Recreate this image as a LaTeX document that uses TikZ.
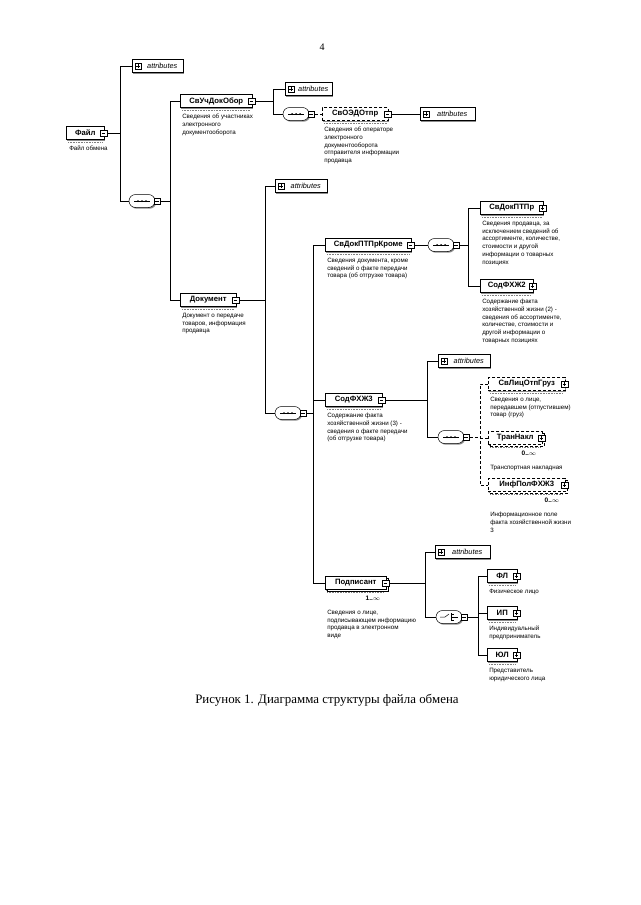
\documentclass[tikz,border=0pt]{standalone}
\usepackage{fontspec}
\setmainfont{Liberation Serif}
\setsansfont{Liberation Sans}
\usetikzlibrary{shapes.misc, shadows}

\begin{document}
\begin{tikzpicture}[x=1pt, y=-1pt, line width=0.5pt,
    elem/.style={draw, fill=white, anchor=west, minimum height=13pt, inner sep=1pt,
      font=\sffamily\bfseries\fontsize{7.7}{8}\selectfont,
      drop shadow={shadow xshift=1.2pt, shadow yshift=-1.2pt, fill=black!45, opacity=1}},
    optl/.style={elem, densely dashed},
    many/.style={copy shadow={shadow xshift=2pt, shadow yshift=-2pt}},
    attr/.style={draw, fill=white, anchor=west, minimum height=13pt, minimum width=52pt, inner sep=1pt,
      font=\sffamily\itshape\fontsize{7.3}{8}\selectfont,
      drop shadow={shadow xshift=1.2pt, shadow yshift=-1.2pt, fill=black!45, opacity=1},
      path picture={
        \draw ([xshift=2.5pt, yshift=-3pt]path picture bounding box.west) rectangle ++(6pt,6pt);
        \draw ([xshift=3.7pt]path picture bounding box.west) -- ++(3.6pt,0pt);
        \draw ([xshift=5.5pt, yshift=-1.8pt]path picture bounding box.west) -- ++(0pt,3.6pt);
      }},
    comp/.style={draw, fill=white, rounded rectangle, minimum width=26pt, minimum height=13pt, inner sep=0pt,
      drop shadow={shadow xshift=1.2pt, shadow yshift=-1.2pt, fill=black!45, opacity=1}},
    sign/.style={draw, fill=white, minimum size=6.5pt, inner sep=0pt},
    minus/.style={sign, path picture={
        \draw ([xshift=1.3pt]path picture bounding box.west) -- ([xshift=-1.3pt]path picture bounding box.east);}},
    plus/.style={sign, path picture={
        \draw ([xshift=1.3pt]path picture bounding box.west) -- ([xshift=-1.3pt]path picture bounding box.east);
        \draw ([yshift=-1.3pt]path picture bounding box.north) -- ([yshift=1.3pt]path picture bounding box.south);}},
    desc/.style={anchor=north west, inner sep=0pt, align=left, font=\sffamily\fontsize{6.2}{7.8}\selectfont},
    card/.style={anchor=north east, inner sep=0pt, font=\sffamily\bfseries\fontsize{6.5}{7}\selectfont},
    ann/.style={densely dotted, line width=0.6pt, black!50},
    conn/.style={line width=0.6pt},
    opt/.style={conn, densely dashed}
  ]
  \useasboundingbox (0,0) rectangle (640,905);

  \node[font=\fontsize{10}{12}\selectfont] (pg) at (322,47) {4};

  % root
  \node[elem, minimum width=38pt] (fajl) at (66,133) {Файл};
  \node[attr, minimum width=51pt] (at1) at (132,66) {\hspace{9pt}attributes};
  \node[comp] (sq1) at (142,201) {};

  % level 1
  \node[elem, minimum width=72pt] (svuch) at (180,101) {СвУчДокОбор};
  \node[elem, minimum width=56pt] (dok) at (180,300) {Документ};

  % СвУчДокОбор
  \node[attr, minimum width=47pt] (at2) at (285,89) {\hspace{9pt}attributes};
  \node[comp] (sq2) at (296,114) {};
  \node[optl, minimum width=66pt] (svoed) at (322,114) {СвОЭДОтпр};
  \node[attr, minimum width=55pt] (at3) at (420,114) {\hspace{9pt}attributes};

  % Документ
  \node[attr] (at4) at (275,186) {\hspace{9pt}attributes};
  \node[comp] (sq3) at (288,413) {};
  \node[elem, minimum width=86pt] (svdokk) at (325,245) {СвДокПТПрКроме};
  \node[comp] (sq4) at (441,245) {};
  \node[elem, minimum width=63pt] (svdok) at (480,208) {СвДокПТПр};
  \node[elem, minimum width=53pt] (sod2) at (480,286) {СодФХЖ2};

  \node[elem, minimum width=57pt] (sod3) at (325,400) {СодФХЖ3};
  \node[attr] (at5) at (438,361) {\hspace{9pt}attributes};
  \node[comp] (sq5) at (451,437) {};
  \node[optl, minimum width=77pt] (svlic) at (488,384) {СвЛицОтпГруз};
  \node[optl, many, minimum width=54pt] (trann) at (488,438) {ТранНакл};
  \node[optl, many, minimum width=77pt] (infpol) at (488,485) {ИнфПолФХЖ3};

  \node[elem, many, minimum width=61pt] (podp) at (325,583) {Подписант};
  \node[attr, minimum width=55pt] (at6) at (435,552) {\hspace{9pt}attributes};
  \node[comp] (ch1) at (449,617) {};
  \node[elem, minimum width=30pt] (fl) at (487,576) {ФЛ};
  \node[elem, minimum width=30pt] (ip) at (487,613) {ИП};
  \node[elem, minimum width=30pt] (ul) at (487,655) {ЮЛ};

  % icons
  \foreach \n in {fajl, svuch, dok, svoed, svdokk, sod3, podp}
    \node[minus] (\n-i) at ([xshift=-1]\n.east) {};
  \foreach \n in {svdok, sod2, svlic, trann, infpol, fl, ip, ul}
    \node[plus] (\n-i) at ([xshift=-1]\n.east) {};
  \foreach \n in {sq1, sq2, sq3, sq4, sq5, ch1}
    \node[minus] (\n-i) at ([xshift=2]\n.east) {};

  % annotation bars
  \foreach \n in {fajl, svuch, dok, svoed, svdokk, svdok, sod2, sod3, svlic, trann, infpol, podp, fl, ip, ul}
    \draw[ann] ([shift={(2,3)}]\n.south west) -- ([shift={(-2,3)}]\n.south east);

  % sequence marks
  \foreach \s in {sq1, sq2, sq3, sq4, sq5} {
    \draw ([xshift=-8pt]\s.center) -- ([xshift=8pt]\s.center);
    \foreach \d in {-4, 0, 4}
      \fill ([xshift=\d pt]\s.center) circle (1pt);
  }
  % choice mark
  \draw ([xshift=-9pt]ch1.center) -- ([xshift=-4pt]ch1.center) -- ([shift={(0,-3)}]ch1.center);
  \draw ([shift={(2,-4)}]ch1.center) -- ([shift={(2,4)}]ch1.center);
  \foreach \d in {-3, 0, 3}
    \draw ([shift={(2,\d)}]ch1.center) -- ([shift={(5,\d)}]ch1.center);
  \draw ([xshift=5pt]ch1.center) -- ([xshift=9pt]ch1.center);

  % cardinalities
  \node[card] (trann-c) at ([shift={(-6,6)}]trann.south east) {0..$\infty$};
  \node[card] (infpol-c) at ([shift={(-6,6)}]infpol.south east) {0..$\infty$};
  \node[card] (podp-c) at ([shift={(-6,6)}]podp.south east) {1..$\infty$};

  % descriptions
  \node[desc] (fajl-d) at ([shift={(3,6)}]fajl.south west) {Файл обмена};
  \node[desc] (svuch-d) at ([shift={(2,6)}]svuch.south west) {Сведения об участниках\\электронного\\документооборота};
  \node[desc] (svoed-d) at ([shift={(2,6)}]svoed.south west) {Сведения об операторе\\электронного\\документооборота\\отправителя информации\\продавца};
  \node[desc] (dok-d) at ([shift={(2,6)}]dok.south west) {Документ о передаче\\товаров, информация\\продавца};
  \node[desc] (svdokk-d) at ([shift={(2,6)}]svdokk.south west) {Сведения документа, кроме\\сведений о факте передачи\\товара (об отгрузке товара)};
  \node[desc] (svdok-d) at ([shift={(2,6)}]svdok.south west) {Сведения продавца, за\\исключением сведений об\\ассортименте, количестве,\\стоимости и другой\\информации о товарных\\позициях};
  \node[desc] (sod2-d) at ([shift={(2,6)}]sod2.south west) {Содержание факта\\хозяйственной жизни (2) -\\сведения об ассортименте,\\количестве, стоимости и\\другой информации о\\товарных позициях};
  \node[desc] (sod3-d) at ([shift={(2,6)}]sod3.south west) {Содержание факта\\хозяйственной жизни (3) -\\сведения о факте передачи\\(об отгрузке товара)};
  \node[desc] (svlic-d) at ([shift={(2,6)}]svlic.south west) {Сведения о лице,\\передавшем (отпустившем)\\товар (груз)};
  \node[desc] (trann-d) at ([shift={(2,20)}]trann.south west) {Транспортная накладная};
  \node[desc] (infpol-d) at ([shift={(2,20)}]infpol.south west) {Информационное поле\\факта хозяйственной жизни\\3};
  \node[desc] (podp-d) at ([shift={(2,20)}]podp.south west) {Сведения о лице,\\подписывающем информацию\\продавца в электронном\\виде};
  \node[desc] (fl-d) at ([shift={(2,6)}]fl.south west) {Физическое лицо};
  \node[desc] (ip-d) at ([shift={(2,6)}]ip.south west) {Индивидуальный\\предприниматель};
  \node[desc] (ul-d) at ([shift={(2,6)}]ul.south west) {Представитель\\юридического лица};

  % connectors
  \coordinate (b1) at (120,0);
  \coordinate (b2) at (170,0);
  \coordinate (b3) at (273,0);
  \coordinate (b4) at (265,0);
  \coordinate (b5) at (313,0);
  \coordinate (b6) at (468,0);
  \coordinate (b7) at (427,0);
  \coordinate (b8) at (480,0);
  \coordinate (b9) at (425,0);
  \coordinate (b10) at (478,0);

  \draw[conn] (fajl-i.east) -- (fajl-i.east -| b1);
  \draw[conn] (at1.west) -- (at1.west -| b1) -- (sq1.west -| b1) -- (sq1.west);
  \draw[conn] (sq1-i.east) -- (sq1-i.east -| b2);
  \draw[conn] (svuch.west) -- (svuch.west -| b2) -- (dok.west -| b2) -- (dok.west);

  \draw[conn] (svuch-i.east) -- (svuch-i.east -| b3);
  \draw[conn] (at2.west) -- (at2.west -| b3) -- (sq2.west -| b3) -- (sq2.west);
  \draw[opt] (sq2-i.east) -- (svoed.west);
  \draw[conn] (svoed-i.east) -- (at3.west);

  \draw[conn] (dok-i.east) -- (dok-i.east -| b4);
  \draw[conn] (at4.west) -- (at4.west -| b4) -- (sq3.west -| b4) -- (sq3.west);
  \draw[conn] (sq3-i.east) -- (sq3-i.east -| b5);
  \draw[conn] (svdokk.west) -- (svdokk.west -| b5) -- (podp.west -| b5) -- (podp.west);
  \draw[conn] (sod3.west -| b5) -- (sod3.west);

  \draw[conn] (svdokk-i.east) -- (sq4.west);
  \draw[conn] (sq4-i.east) -- (sq4-i.east -| b6);
  \draw[conn] (svdok.west) -- (svdok.west -| b6) -- (sod2.west -| b6) -- (sod2.west);

  \draw[conn] (sod3-i.east) -- (sod3-i.east -| b7);
  \draw[conn] (at5.west) -- (at5.west -| b7) -- (sq5.west -| b7) -- (sq5.west);
  \draw[opt] (sq5-i.east) -- (sq5-i.east -| b8);
  \draw[opt] (svlic.west) -- (svlic.west -| b8) -- (infpol.west -| b8) -- (infpol.west);
  \draw[opt] (trann.west -| b8) -- (trann.west);

  \draw[conn] (podp-i.east) -- (podp-i.east -| b9);
  \draw[conn] (at6.west) -- (at6.west -| b9) -- (ch1.west -| b9) -- (ch1.west);
  \draw[conn] (ch1-i.east) -- (ch1-i.east -| b10);
  \draw[conn] (fl.west) -- (fl.west -| b10) -- (ul.west -| b10) -- (ul.west);
  \draw[conn] (ip.west -| b10) -- (ip.west);

  \node[font=\fontsize{12.9}{14}\selectfont] (cap) at (327,700) {Рисунок 1. Диаграмма структуры файла обмена};
\end{tikzpicture}
\end{document}
